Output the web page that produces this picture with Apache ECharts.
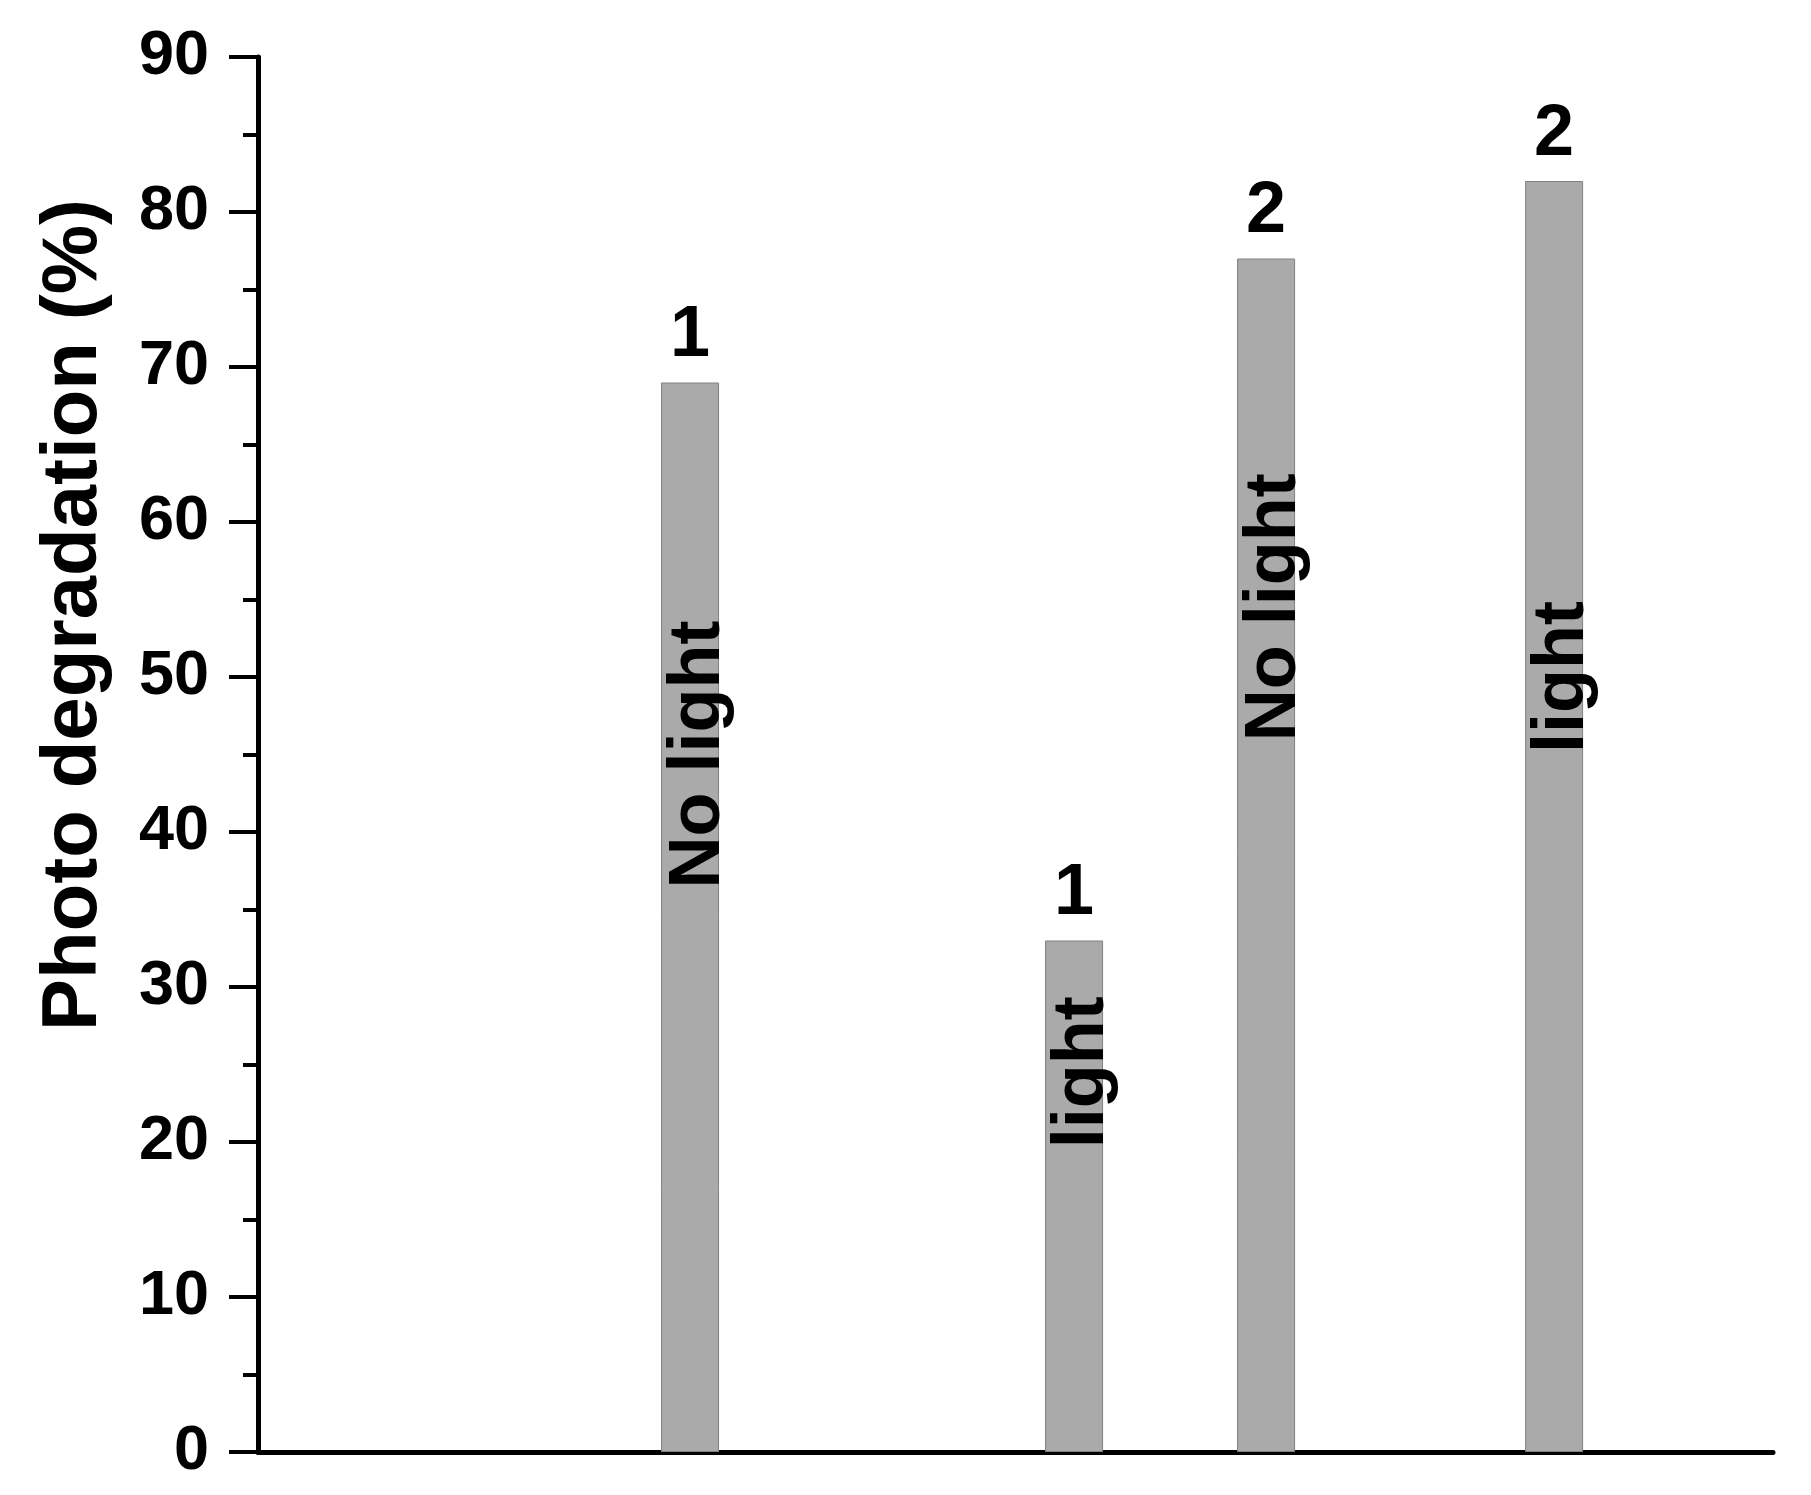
<!DOCTYPE html>
<html>
<head>
<meta charset="utf-8">
<script src="https://cdn.jsdelivr.net/npm/echarts@6/dist/echarts.min.js"></script>
<style>
html,body{margin:0;padding:0;background:#fff;}
#chart{width:1811px;height:1495px;}
</style>
</head>
<body>
<div id="chart"></div>
<script>
// ---- data ----
var barX = [4.5, 8.5, 10.5, 13.5];          // bar positions along x (arbitrary units)
var barValues = [69, 33, 77, 82];            // photo degradation (%)
var topLabels = ['1', '1', '2', '2'];        // sample number above bars
var innerLabels = ['No light', 'light', 'No light', 'light'];
var innerLabelY = [45, 24.5, 54.5, 50];      // where the vertical labels sit (data units)
var yTicks = [0, 10, 20, 30, 40, 50, 60, 70, 80, 90];
var yTitle = 'Photo degradation (%)';

var FONT = 'Arial, "Liberation Sans", Helvetica, sans-serif';
var chart = echarts.init(document.getElementById('chart'), null, {renderer: 'canvas'});

var barData = barX.map(function (x, i) {
  return {value: [x, barValues[i]], name: topLabels[i]};
});
var innerData = barX.map(function (x, i) {
  return {value: [x, innerLabelY[i]], name: innerLabels[i]};
});

chart.setOption({
  backgroundColor: '#ffffff',
  animation: false,
  grid: {left: 258, right: 38, top: 57, bottom: 43, containLabel: false},
  xAxis: {
    type: 'value',
    min: 0,
    max: 15.78,
    axisLine: {show: true, onZero: false, lineStyle: {color: '#000', width: 5}},
    axisTick: {show: false},
    axisLabel: {show: false},
    splitLine: {show: false}
  },
  yAxis: {
    type: 'value',
    min: yTicks[0],
    max: yTicks[yTicks.length - 1],
    interval: 10,
    axisLine: {show: true, lineStyle: {color: '#000', width: 5}},
    axisTick: {show: true, inside: false, length: 29, lineStyle: {color: '#000', width: 4}},
    minorTick: {show: true, splitNumber: 2, length: 15, lineStyle: {color: '#000', width: 4}},
    axisLabel: {
      show: true, margin: 49, color: '#000', fontSize: 63, fontWeight: 'bold', fontFamily: FONT
    },
    splitLine: {show: false}
  },
  graphic: [{
    type: 'text',
    x: 74,
    y: 615,
    rotation: Math.PI / 2,
    style: {
      text: yTitle,
      fill: '#000',
      font: 'bold 78px ' + FONT,
      textAlign: 'center',
      textVerticalAlign: 'middle'
    }
  }],
  series: [{
    type: 'bar',
    data: barData,
    barWidth: 58,
    itemStyle: {color: '#aaaaaa', borderColor: '#808080', borderWidth: 1},
    label: {
      show: true,
      position: 'top',
      distance: 10,
      formatter: '{b}',
      color: '#000',
      fontSize: 72,
      fontWeight: 'bold',
      fontFamily: FONT
    },
    silent: true,
    z: 2
  }, {
    type: 'scatter',
    data: innerData,
    symbolSize: 1,
    itemStyle: {color: '#aaaaaa', opacity: 1},
    label: {
      show: true,
      position: 'inside',
      rotate: 90,
      offset: [0, 9],
      formatter: '{b}',
      color: '#000000',
      opacity: 1,
      textBorderWidth: 0,
      fontSize: 72,
      fontWeight: 'bold',
      fontFamily: FONT
    },
    emphasis: {disabled: true},
    silent: true,
    z: 5
  }]
});
</script>
</body>
</html>
